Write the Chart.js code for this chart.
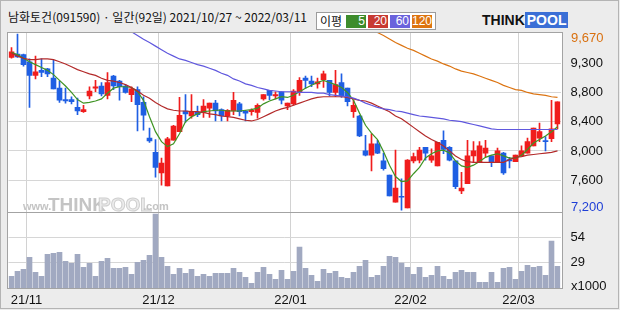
<!DOCTYPE html>
<html>
<head>
<meta charset="utf-8">
<script src="https://cdn.jsdelivr.net/npm/chart.js@4.4.1/dist/chart.umd.min.js"></script>
<style>
  html, body { margin: 0; padding: 0; }
  body { width: 620px; height: 310px; background: #ececec; position: relative; overflow: hidden; }
  #title { position: absolute; left: 8px; top: 8px; font: 12px "Noto Sans CJK KR", sans-serif; color: #111; white-space: nowrap; }
  #maLegend { position: absolute; left: 316px; top: 12px; width: 118px; height: 16px; border: 1px solid #9c9c9c; background: #fff; font: 12px "Liberation Sans", Arial, sans-serif; }
  #maLegend .name { position: absolute; left: 3px; top: 0; font: 12px "Noto Sans CJK KR", sans-serif; line-height: 16px; color: #111; }
  #maLegend .sw { position: absolute; top: 2px; width: 20px; height: 13px; color: #fff; text-align: right; line-height: 13px; box-sizing: border-box; padding-right: 1px; }
  #logo { position: absolute; left: 482px; top: 13px; height: 15px; font: bold 14px "Liberation Sans", Arial, sans-serif; line-height: 15px; white-space: nowrap; }
  #logo .think { color: #111; }
  #logo .pool { color: #fff; background: #3b6fd6; padding: 0 2px; }
  canvas { position: absolute; left: 0; top: 0; }
</style>
</head>
<body>
<div id="title">남화토건(091590) · 일간(92일) 2021/10/27 ~ 2022/03/11</div>
<div id="maLegend">
  <span class="name">이평</span>
  <span class="sw" style="left:29px;background:#3d8c2c">5</span>
  <span class="sw" style="left:51px;background:#c83a32">20</span>
  <span class="sw" style="left:73px;background:#6a62dc">60</span>
  <span class="sw" style="left:95px;background:#dd7410">120</span>
</div>
<div id="logo"><span class="think">THINK</span><span class="pool">POOL</span></div>
<canvas id="chart" width="620" height="310"></canvas>
<script>
// trading days 2021/10/27 ~ 2022/03/11
const dates = [
  '21/10/27','21/10/28','21/10/29',
  '21/11/01','21/11/02','21/11/03','21/11/04','21/11/05','21/11/08','21/11/09','21/11/10','21/11/11','21/11/12',
  '21/11/15','21/11/16','21/11/17','21/11/18','21/11/19','21/11/22','21/11/23','21/11/24','21/11/25','21/11/26',
  '21/11/29','21/11/30',
  '21/12/01','21/12/02','21/12/03','21/12/06','21/12/07','21/12/08','21/12/09','21/12/10','21/12/13','21/12/14',
  '21/12/15','21/12/16','21/12/17','21/12/20','21/12/21','21/12/22','21/12/23','21/12/24','21/12/27','21/12/28',
  '21/12/29','21/12/30',
  '22/01/03','22/01/04','22/01/05','22/01/06','22/01/07','22/01/10','22/01/11','22/01/12','22/01/13','22/01/14',
  '22/01/17','22/01/18','22/01/19','22/01/20','22/01/21','22/01/24','22/01/25','22/01/26','22/01/27','22/01/28',
  '22/02/03','22/02/04','22/02/07','22/02/08','22/02/09','22/02/10','22/02/11','22/02/14','22/02/15','22/02/16',
  '22/02/17','22/02/18','22/02/21','22/02/22','22/02/23','22/02/24','22/02/25','22/02/28',
  '22/03/02','22/03/03','22/03/04','22/03/07','22/03/08','22/03/10','22/03/11'
];

const opens = [9340,9390,9380,9280,9090,9160,9180,9050,8910,8750, 8750,8640,8580,8800,8910,8940,8810,9080,9010,8940,
  8820,8890,8710,8210,8010,7720,7540,8180,8300,8590, 8520,8570,8570,8630,8700,8610,8520,8590,8690,8590,
  8580,8570,8760,8880,8800,8860,8660,8690,8860,9050, 9010,8970,9030,9020,8850,8990,8910,8580,8520,8030,
  7970,8130,7890,7690,7310,7390,7230,7890,7900,8080, 7900,7820,8180,8080,7890,7470,7570,7960,7870,8000,
  7960,7870,8000,7910,7880,7960,8000,8100,8210,8170, 8200,8410];
const highs = [9480,9670,9390,9320,9360,9320,9190,9300,9010,8910, 8790,8770,8670,8930,9020,8990,9130,9090,9020,8960,
  8930,8930,8790,8350,8190,7930,8220,8390,8780,8820, 8820,8660,8750,8700,8740,8620,8610,8850,8710,8600,
  8620,8690,8820,8880,8860,8860,8700,8890,9060,9080, 9080,9050,9150,9020,9160,9110,8910,8740,8530,8250,
  8270,8180,8000,7690,8040,7640,7910,8000,8080,8080, 8060,8150,8310,8090,7890,7730,8180,8160,8160,8180,
  7960,8070,8010,7940,7970,8100,8210,8350,8420,8230, 8740,8720];
const lows = [9330,9340,9220,8640,9040,9070,9070,8900,8710,8700, 8690,8540,8570,8760,8860,8800,8760,8890,8740,8840,
  8720,8310,8320,8150,7660,7550,7540,8180,8300,8430, 8490,8510,8500,8500,8450,8450,8450,8540,8520,8450,
  8530,8490,8740,8750,8760,8690,8610,8670,8810,8910, 8930,8910,8920,8800,8790,8780,8660,8500,8230,7960,
  7750,7990,7760,7400,7310,7200,7230,7860,7860,7900, 7870,7820,7990,7890,7500,7430,7570,7870,7870,7950,
  7810,7870,7700,7790,7880,7960,8000,8100,8160,8030, 8160,8340];
const closes = [9420,9350,9240,9090,9140,9130,9110,8900,8740,8730, 8720,8590,8610,8870,8930,8830,8990,8940,8930,8850,
  8900,8680,8530,8170,7800,7860,8200,8380,8530,8550, 8570,8540,8660,8700,8590,8520,8600,8740,8580,8560,
  8600,8670,8820,8810,8820,8740,8700,8870,9020,9020, 8970,9000,9110,8850,8960,8800,8720,8670,8240,7970,
  8130,8000,7780,7400,7510,7380,7900,7950,8040,8000, 7960,8150,8050,7900,7530,7510,7960,8030,8100,8070,
  7870,8030,7720,7890,7970,8030,8160,8350,8300,8160, 8340,8720];

// moving averages (null = not shown)
const ma5 = [9410,9380,9330,9280,9240,9200,9160,9100,9020,8940, 8850,8750,8700,8710,8730,8760,8840,8910,8930,8930,
  8920,8860,8740,8510,8300,8160,8090,8130,8270,8440, 8510,8550,8580,8590,8600,8600,8590,8590,8590,8600,
  8610,8630,8690,8730,8760,8790,8780,8810,8860,8910, 8950,8990,9020,8990,8960,8920,8850,8740,8560,8390,
  8280,8190,8020,7830,7670,7600,7610,7710,7800,7930, 7990,8030,8040,8000,7890,7820,7800,7830,7880,7940,
  7970,7990,7960,7930,7930,7970,8050,8140,8190,8240, 8300,8370];
const ma20 = [9400,9360,9330,9310,9310,9320,9320,9310,9280,9250, 9210,9170,9140,9110,9090,9050,9020,9010,8990,8960,
  8920,8870,8810,8770,8710,8660,8620,8600,8590,8590, 8580,8580,8570,8550,8540,8520,8510,8500,8480,8460,
  8450,8470,8510,8550,8590,8620,8640,8670,8700,8730, 8760,8780,8790,8790,8790,8790,8780,8760,8740,8730,
  8700,8660,8620,8580,8520,8480,8420,8360,8300,8240, 8190,8150,8100,8030,7960,7910,7880,7870,7870,7870,
  7870,7870,7870,7910,7940,7950,7970,7980,7990,8000, 8010,8030];
const ma60 = [null,null,null,null,null,null,null,null,null,null, null,null,null,null,null,null,null,null,null,9760,
  9700,9650,9595,9550,9500,9450,9400,9360,9320,9300, 9270,9240,9220,9190,9160,9120,9090,9040,9010,8970,
  8950,8920,8900,8880,8870,8860,8860,8860,8850,8850, 8850,8840,8840,8820,8810,8800,8790,8770,8740,8700,
  8670,8640,8620,8610,8590,8580,8560,8540,8520,8510, 8500,8490,8480,8460,8450,8440,8420,8400,8380,8360,
  8340,8330,8330,8330,8330,8330,8330,8330,8330,8330, 8330,8330];
const ma120 = [null,null,null,null,null,null,null,null,null,null, null,null,null,null,null,null,null,null,null,null,
  null,null,null,null,null,null,null,null,null,null, null,null,null,null,null,null,null,null,null,null,
  null,null,null,null,null,null,null,null,null,null, null,null,null,null,null,null,null,null,null,null,
  9740,9690,9650,9600,9550,9510,9470,9440,9400,9360, 9320,9290,9250,9220,9180,9150,9130,9110,9080,9050,
  9020,8990,8950,8920,8890,8880,8850,8830,8820,8810, 8790,8780];

// volume, thousands of shares
const volumesK = [15.3,20.3,22.3,34.3,19.3,15.3,37.3,38.3,39.3,30.3, 28.3,37.3,24.3,28.3,15.3,30.3,33.3,23.3,23.3,24.3,
  17.3,29.3,31.3,36.3,77.3,34.3,25.3,17.3,23.3,18.3, 22.3,15.3,17.3,15.3,18.3,18.3,18.3,23.3,19.3,14.3,
  8.3,19.3,24.3,17.3,12.3,21.3,12.3,20.3,44.3,23.3, 16.3,10.3,22.3,18.3,20.3,14.3,13.3,19.3,25.3,31.3,
  14.3,16.3,25.3,35.3,34.3,28.6,24.3,17.3,24.3,14.3, 16.3,25.3,15.3,12.3,19.3,21.3,19.3,19.3,9.3,9.3,
  19.3,9.3,23.3,24.3,12.3,20.3,26.3,24.3,25.3,16.3, 50.3,25.3];

// axis ranges and tick labels as printed on the picture
const priceMin = 7166, priceMax = 9698;
const priceTicks = [9259, 8849, 8439, 8029, 7619];
const priceTickLabels = ['9,300', '8,800', '8,400', '8,000', '7,600'];
const priceHigh = 9670, priceLow = 7200;
const volMin = 3.7, volMax = 78.8;
const volTicks = [29, 54];

const UP = '#f01d1d', DOWN = '#1f5fe3';
const candleColors = closes.map((c, i) => c >= opens[i] ? UP : DOWN);
const axisFont = { family: 'Liberation Sans, Arial, sans-serif', size: 13 };

const isMonthStart = i => i > 0 && i < dates.length && dates[i].slice(0, 5) !== dates[i - 1].slice(0, 5);

const paneDecor = {
    id: 'paneDecor',
    beforeDraw(chart) {
        const { ctx, chartArea: a } = chart;
        ctx.save();
        ctx.fillStyle = '#fff';
        ctx.fillRect(a.left - 1, a.top, a.right - a.left + 3, a.bottom - a.top);
        // watermark
        const wy = chart.scales.y.bottom - 3;
        ctx.textBaseline = 'alphabetic';
        ctx.fillStyle = '#c4c4c4';
        ctx.font = 'bold 11px "Liberation Sans", Arial';
        ctx.fillText('www.', 23, wy);
        ctx.font = 'bold 19px "Liberation Sans", Arial';
        ctx.fillText('THINK', 48, wy + 1);
        ctx.fillStyle = '#ececec';
        ctx.strokeStyle = '#cfcfcf';
        ctx.lineWidth = 1;
        ctx.fillText('POOL', 98, wy + 1);
        ctx.strokeText('POOL', 98, wy + 1);
        ctx.fillStyle = '#c4c4c4';
        ctx.font = 'bold 11px "Liberation Sans", Arial';
        ctx.fillText('.com', 143, wy);
        ctx.restore();
    },
    afterDraw(chart) {
        const { ctx, chartArea: a } = chart;
        const yS = chart.scales.y;
        ctx.save();
        ctx.strokeStyle = '#a3a3a3';
        ctx.lineWidth = 1;
        ctx.strokeRect(7.5, a.top + 0.5, 555, a.bottom - a.top);
        ctx.beginPath();
        ctx.moveTo(7.5, Math.floor(yS.bottom) + 0.5);
        ctx.lineTo(562.5, Math.floor(yS.bottom) + 0.5);
        ctx.stroke();
        // page frame
        ctx.strokeStyle = '#b4b4b4';
        ctx.strokeRect(0.5, 0.5, 618, 308);
        // high / low / unit labels
        ctx.font = '13px "Liberation Sans", Arial';
        ctx.textBaseline = 'middle';
        ctx.textAlign = 'left';
        ctx.fillStyle = '#d9700f';
        ctx.fillText(priceHigh.toLocaleString('en-US'), 571, yS.getPixelForValue(priceHigh) + 4);
        ctx.fillStyle = '#1f3fd6';
        ctx.fillText(priceLow.toLocaleString('en-US'), 571, yS.getPixelForValue(priceLow) - 3);
        ctx.fillStyle = '#111';
        ctx.fillText('x1000', 571, a.bottom - 2);
        ctx.restore();
    }
};

const maLine = (data, color) => ({
    type: 'line', data, yAxisID: 'y', borderColor: color, borderWidth: 1.2,
    pointRadius: 0, tension: 0, fill: false, order: 0, spanGaps: false
});

new Chart(document.getElementById('chart'), {
    type: 'bar',
    data: {
        labels: dates,
        datasets: [
            maLine(ma120, '#dc7412'),
            maLine(ma60, '#6058de'),
            maLine(ma20, '#b32a2a'),
            maLine(ma5, '#3f9424'),
            {
                // wicks
                data: lows.map((l, i) => [l, highs[i]]),
                yAxisID: 'y', backgroundColor: candleColors,
                barThickness: 1, grouped: false, order: 1
            },
            {
                // bodies
                data: opens.map((o, i) => [o, closes[i]]),
                yAxisID: 'y', backgroundColor: candleColors,
                barThickness: 5, minBarLength: 1, grouped: false, order: 1
            },
            {
                data: volumesK, yAxisID: 'y2', backgroundColor: '#a1a9c1',
                barThickness: 5, grouped: false, order: 2
            }
        ]
    },
    options: {
        responsive: false,
        devicePixelRatio: 1,
        animation: false,
        layout: { padding: { left: 8.5, top: 32, right: 0, bottom: 0 } },
        plugins: { legend: { display: false }, tooltip: { enabled: false } },
        scales: {
            x: {
                offset: true,
                grid: {
                    offset: true,
                    drawTicks: false,
                    lineWidth: 1,
                    color: ctx => (ctx.tick && isMonthStart(ctx.index)) ? '#d2d2d2' : 'rgba(0,0,0,0)'
                },
                border: { display: false },
                ticks: {
                    autoSkip: false, maxRotation: 0, minRotation: 0,
                    labelOffset: -3, padding: 5,
                    font: axisFont, color: '#111',
                    callback: (v, i) => isMonthStart(i) ? dates[i].slice(0, 5) : ''
                },
                afterFit: s => { s.height = 22; }
            },
            y: {
                position: 'right', stack: 'panes', stackWeight: 180.5,
                min: priceMin, max: priceMax,
                grid: { color: '#d6d6d6', drawTicks: false },
                border: { display: false },
                afterBuildTicks: s => { s.ticks = priceTicks.map(v => ({ value: v })); },
                ticks: { padding: 10, font: axisFont, color: '#111', callback: (v, i) => priceTickLabels[i] },
                afterFit: s => { s.width = 59.5; }
            },
            y2: {
                position: 'right', stack: 'panes', stackWeight: 75.5,
                min: volMin, max: volMax,
                grid: { color: '#d6d6d6', drawTicks: false },
                border: { display: false },
                afterBuildTicks: s => { s.ticks = volTicks.map(v => ({ value: v })); },
                ticks: { padding: 10, font: axisFont, color: '#111', callback: v => String(v) },
                afterFit: s => { s.width = 59.5; }
            }
        }
    },
    plugins: [paneDecor]
});
</script>
</body>
</html>
